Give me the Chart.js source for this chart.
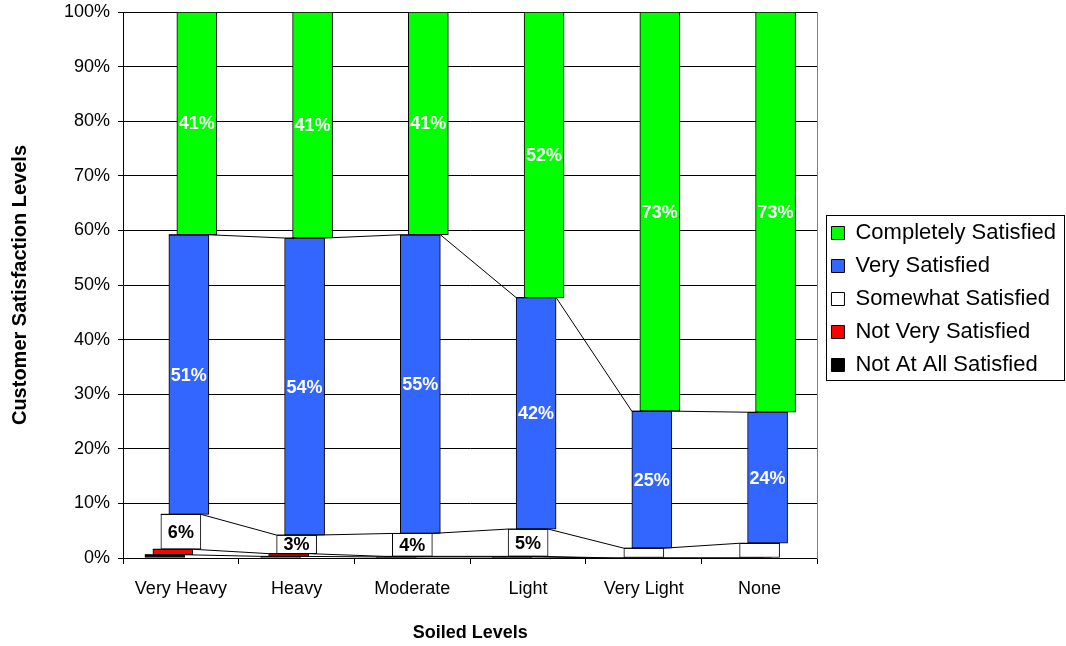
<!DOCTYPE html>
<html>
<head>
<meta charset="utf-8">
<script src="https://cdn.jsdelivr.net/npm/chart.js@4.4.1/dist/chart.umd.min.js"></script>
<style>
  html, body { margin: 0; padding: 0; background: #fff; }
</style>
</head>
<body>
<canvas id="chart" width="1066" height="646"></canvas>
<script>
// values, in percent
const soiledLevels = ["Very Heavy", "Heavy", "Moderate", "Light", "Very Light", "None"];
const notAtAllSatisfied = [0.6, 0.3, 0.2, 0.2, 0.0, 0.0];
const notVerySatisfied = [1.0, 0.5, 0.1, 0.1, 0.0, 0.0];
const somewhatSatisfied = [6.4, 3.4, 4.2, 5.0, 1.8, 2.7];
const verySatisfied = [51.2, 54.4, 54.7, 42.4, 25.1, 24.0];
const completelySatisfied = [40.8, 41.4, 40.8, 52.3, 73.1, 73.3];
const yTicks = [0, 10, 20, 30, 40, 50, 60, 70, 80, 90, 100];

// bottom to top
const seriesNames = ["Not At All Satisfied", "Not Very Satisfied", "Somewhat Satisfied", "Very Satisfied", "Completely Satisfied"];
const seriesValues = [notAtAllSatisfied, notVerySatisfied, somewhatSatisfied, verySatisfied, completelySatisfied];
const seriesColors = ["#000000", "#ff0000", "#ffffff", "#3366ff", "#00ff00"];

// each series sits a little right of the one below it (category units)
const SHIFT = [-0.138, -0.069, 0, 0.069, 0.138];
const HALF = 0.173;
const FONT = '"Liberation Sans", Arial, sans-serif';

Chart.defaults.font.family = FONT;
Chart.defaults.color = "#000";

// running bottoms of every series
const bottoms = [];
let running = soiledLevels.map(() => 0);
seriesValues.forEach(vals => {
  bottoms.push(running.slice());
  running = running.map((r, i) => r + vals[i]);
});

const barSets = [];
for (let k = seriesValues.length - 1; k >= 0; k--) {
  const vals = seriesValues[k];
  barSets.push({
    type: "bar",
    label: seriesNames[k],
    data: soiledLevels.map((c, i) => ({ x: i + SHIFT[k], y: [bottoms[k][i], bottoms[k][i] + vals[i]] })),
    values: vals,
    backgroundColor: seriesColors[k],
    borderColor: "#000",
    borderWidth: 1,
    borderSkipped: false,
    barThickness: 40,
    grouped: false,
    order: 1,
    labelColor: k >= 3 ? "#fff" : (k === 2 ? "#000" : null),
    labelMin: 3
  });
}

// series lines joining the tops of each series
const lineSets = [];
for (let k = 0; k < 4; k++) {
  const vals = seriesValues[k];
  lineSets.push({
    type: "line",
    label: "line" + k,
    data: soiledLevels.flatMap((c, i) => {
      const top = bottoms[k][i] + vals[i];
      return [{ x: i + SHIFT[k] - HALF, y: top }, { x: i + SHIFT[k] + HALF, y: top }];
    }),
    borderColor: "#000",
    borderWidth: 1,
    pointRadius: 0,
    fill: false,
    tension: 0,
    order: 0
  });
}

const barLabels = {
  id: "barLabels",
  afterDatasetsDraw(chart) {
    const ctx = chart.ctx;
    chart.data.datasets.forEach((ds, di) => {
      if (!ds.labelColor) return;
      chart.getDatasetMeta(di).data.forEach((bar, i) => {
        const v = ds.values[i];
        if (v < ds.labelMin) return;
        ctx.save();
        ctx.font = "bold 18px " + FONT;
        ctx.fillStyle = ds.labelColor;
        ctx.textAlign = "center";
        ctx.textBaseline = "middle";
        ctx.fillText(Math.round(v) + "%", bar.x, (bar.y + bar.base) / 2 + 1);
        ctx.restore();
      });
    });
  }
};

const legendFrame = {
  id: "legendFrame",
  afterDraw(chart) {
    const boxes = chart.legend.legendHitBoxes;
    if (!boxes || !boxes.length) return;
    const left = Math.min(...boxes.map(b => b.left)) - 5;
    const right = Math.max(...boxes.map(b => b.left + b.width)) + 8;
    const top = boxes[0].top - 7;
    const last = boxes[boxes.length - 1];
    const bottom = last.top + last.height + 4;
    const ctx = chart.ctx;
    ctx.save();
    ctx.strokeStyle = "#000";
    ctx.lineWidth = 1;
    ctx.strokeRect(Math.round(left) + 0.5, Math.round(top) + 0.5, Math.round(right - left), Math.round(bottom - top));
    ctx.restore();
  }
};

new Chart(document.getElementById("chart"), {
  type: "bar",
  data: { datasets: barSets.concat(lineSets) },
  options: {
    responsive: false,
    animation: false,
    events: [],
    layout: { padding: { left: 0, right: 0, top: 6, bottom: 0 } },
    plugins: {
      tooltip: { enabled: false },
      legend: {
        position: "right",
        align: "start",
        maxWidth: 280,
        title: { display: true, text: " ", font: { size: 10 }, padding: { top: 193, bottom: 0 } },
        labels: {
          boxWidth: 13,
          boxHeight: 13,
          padding: 11,
          color: "#000",
          font: { size: 22 },
          filter: (item, data) => data.datasets[item.datasetIndex].type === "bar"
        }
      }
    },
    scales: {
      x: {
        type: "linear",
        position: "bottom",
        min: -0.5,
        max: 5.5,
        offset: false,
        weight: 1,
        grid: { display: false },
        border: { display: false },
        afterBuildTicks: s => { s.ticks = soiledLevels.map((c, i) => ({ value: i })); },
        afterFit: s => { s.height = 82; },
        ticks: {
          autoSkip: false,
          maxRotation: 0,
          padding: 6,
          font: { size: 18 },
          color: "#000",
          callback: v => soiledLevels[v]
        },
        title: {
          display: true,
          text: "Soiled Levels",
          color: "#000",
          font: { size: 18, weight: "bold" },
          padding: { top: 0, bottom: 2 }
        }
      },
      xt: {
        type: "linear",
        position: "bottom",
        min: -0.5,
        max: 5.5,
        offset: false,
        weight: 0,
        grid: { display: true, drawOnChartArea: false, tickLength: 6, color: "#000", offset: false },
        border: { display: true, color: "#000" },
        ticks: { display: false },
        afterBuildTicks: s => { s.ticks = soiledLevels.concat([""]).map((c, i) => ({ value: i - 0.5 })); }
      },
      y: {
        type: "linear",
        position: "left",
        min: 0,
        max: 100,
        afterBuildTicks: s => { s.ticks = yTicks.map(v => ({ value: v })); },
        afterFit: s => { s.width = 123; s.paddingTop = 12; s.paddingBottom = 0; },
        grid: { color: "#000", lineWidth: 1, tickLength: 5 },
        border: { color: "#000" },
        ticks: { padding: 8, font: { size: 18 }, color: "#000", callback: v => v + "%" },
        title: {
          display: true,
          text: "Customer Satisfaction Levels",
          color: "#000",
          font: { size: 20, weight: "bold" },
          padding: { top: 8, bottom: 0 }
        }
      },
      yr: {
        type: "linear",
        position: "right",
        min: 0,
        max: 100,
        grid: { display: false },
        ticks: { display: false },
        border: { display: true, color: "#808080" },
        afterFit: s => { s.width = 3; s.paddingTop = 12; s.paddingBottom = 0; }
      }
    }
  },
  plugins: [barLabels, legendFrame]
});
</script>
</body>
</html>
